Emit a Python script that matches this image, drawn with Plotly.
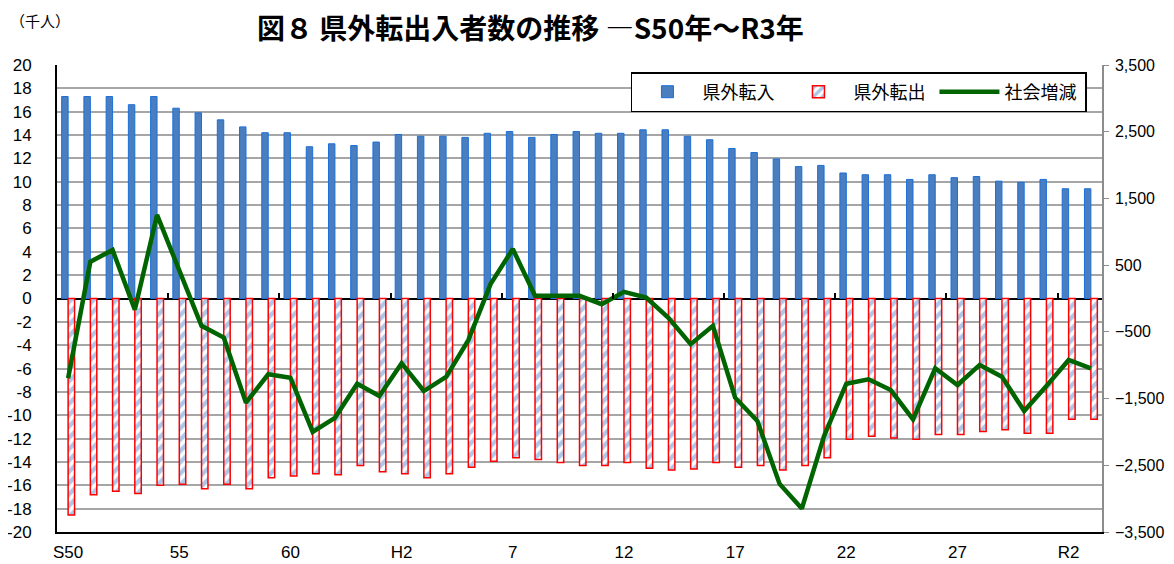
import plotly.graph_objects as go

# 年次（S50〜R3）
categories = ["S50","S51","S52","S53","S54","S55","S56","S57","S58","S59","S60","S61","S62","S63",
              "H1","H2","H3","H4","H5","H6","H7","H8","H9","H10","H11","H12","H13","H14","H15","H16",
              "H17","H18","H19","H20","H21","H22","H23","H24","H25","H26","H27","H28","H29","H30",
              "R1","R2","R3"]
# x軸ラベル（5年毎）
tick_labels = ["S50","55","60","H2","7","12","17","22","27","R2"]
tick_index = [0, 5, 10, 15, 20, 25, 30, 35, 40, 45]

# 県外転入（千人）
inflow = [17.3, 17.3, 17.3, 16.6, 17.3, 16.3, 15.9, 15.3, 14.7, 14.2, 14.2, 13.0, 13.25,
          13.1, 13.4, 14.05, 13.9, 13.9, 13.8, 14.15, 14.3, 13.8, 14.05, 14.3, 14.15, 14.15,
          14.45, 14.45, 13.9, 13.6, 12.85, 12.5, 11.95, 11.3, 11.4, 10.75, 10.6, 10.6, 10.2,
          10.6, 10.35, 10.45, 10.05, 9.95, 10.2, 9.4, 9.4]
# 県外転出（千人）
outflow = [-18.55, -16.8, -16.5, -16.7, -16.0, -15.9, -16.3, -15.9, -16.3, -15.35, -15.2, -15.0,
           -15.1, -14.3, -14.85, -15.0, -15.35, -15.0, -14.45, -13.95, -13.65, -13.8, -14.05,
           -14.3, -14.3, -14.05, -14.55, -14.7, -14.6, -14.05, -14.45, -14.3, -14.7, -14.3,
           -13.65, -12.05, -11.8, -11.95, -12.05, -11.65, -11.65, -11.4, -11.25, -11.55, -11.55,
           -10.35, -10.35]
# 社会増減（人）
net_change = [-1196, 551, 727, -170, 1253, 430, -410, -586, -1562, -1136, -1187, -1998, -1788,
              -1277, -1462, -971, -1387, -1176, -625, 216, 742, 40, 40, 40, -85, 100, 15, -290,
              -685, -410, -1487, -1837, -2779, -3149, -2063, -1277, -1211, -1372, -1812, -1046,
              -1297, -996, -1172, -1687, -1312, -921, -1046]

left_ticks = list(range(-20, 21, 2))
right_ticks = [-3500, -2500, -1500, -500, 500, 1500, 2500, 3500]

x = list(range(len(categories)))
n = len(categories)

JP = "Noto Sans CJK JP"
NUM = "Liberation Sans, Arial"

fig = go.Figure()
fig.add_trace(go.Bar(
    x=x, y=inflow, name="県外転入", customdata=categories,
    marker=dict(color="#4a7ebf", line=dict(color="#1a6fd8", width=1)),
))
fig.add_trace(go.Bar(
    x=x, y=outflow, name="県外転出", customdata=categories,
    marker=dict(color="white", line=dict(color="#ff0000", width=1.5),
                pattern=dict(shape="/", fgcolor="#5b8fd3", bgcolor="white",
                             size=8, solidity=0.55, fillmode="overlay")),
))
fig.add_trace(go.Scatter(
    x=x, y=net_change, name="社会増減", mode="lines", customdata=categories,
    line=dict(color="#006400", width=4.5),
    xaxis="x2", yaxis="y2",
))

fig.update_layout(
    width=1166, height=556,
    margin=dict(l=49, r=72, t=57, b=32, autoexpand=False),
    paper_bgcolor="white", plot_bgcolor="white",
    barmode="group", bargap=0.42, bargroupgap=0,
    title=dict(text="<b>図８ 県外転出入者数の推移 ―S50年～R3年</b>",
               x=0.448, xanchor="center", xref="container",
               y=0.962, yanchor="middle", yref="container", automargin=False,
               font=dict(family=JP, size=28, color="black")),
    font=dict(family=JP, color="black"),
    showlegend=True,
    legend=dict(orientation="h", x=0.9856, xanchor="right", y=0.985, yanchor="top",
                bgcolor="white", bordercolor="black", borderwidth=1.5,
                font=dict(family=JP, size=18, color="black"),
                itemwidth=60, entrywidth=76, traceorder="normal"),
    xaxis=dict(range=[-0.5, n - 0.5], tickvals=tick_index, ticktext=tick_labels,
               tickfont=dict(family=NUM, size=17, color="black"),
               showgrid=False, zeroline=False, showline=True, linecolor="black", linewidth=2,
               ticks="", ticklabelstandoff=4),
    xaxis2=dict(range=[-0.5, n - 0.5], overlaying="x", anchor="free", position=0.5, side="top",
                tickvals=[i - 0.5 for i in tick_index[1:]], showticklabels=False,
                ticks="outside", ticklen=6, tickwidth=1.5, tickcolor="black",
                showgrid=False, zeroline=False, showline=False),
    yaxis=dict(range=[-20, 20], tickvals=left_ticks, ticktext=[str(v) for v in left_ticks],
               tickfont=dict(family=NUM, size=17, color="black"),
               showgrid=True, gridcolor="#a6a6a6", gridwidth=1.5,
               zeroline=True, zerolinecolor="black", zerolinewidth=2,
               showline=True, linecolor="black", linewidth=2, ticks="", ticklabelstandoff=20),
    yaxis2=dict(range=[-3500, 3500], tickvals=right_ticks, tickformat=",",
                overlaying="y", side="right", anchor="x",
                tickfont=dict(family=NUM, size=16, color="black"),
                showgrid=False, zeroline=False, showline=True, linecolor="#8c8c8c", linewidth=1.5,
                ticks="outside", ticklen=5, tickcolor="#8c8c8c", ticklabelstandoff=3),
    annotations=[dict(text="（千人）", xref="paper", yref="paper", x=-0.047, y=1.095,
                      xanchor="left", yanchor="middle", showarrow=False,
                      font=dict(family=JP, size=15, color="black"))],
)

fig.write_html("out.html")
